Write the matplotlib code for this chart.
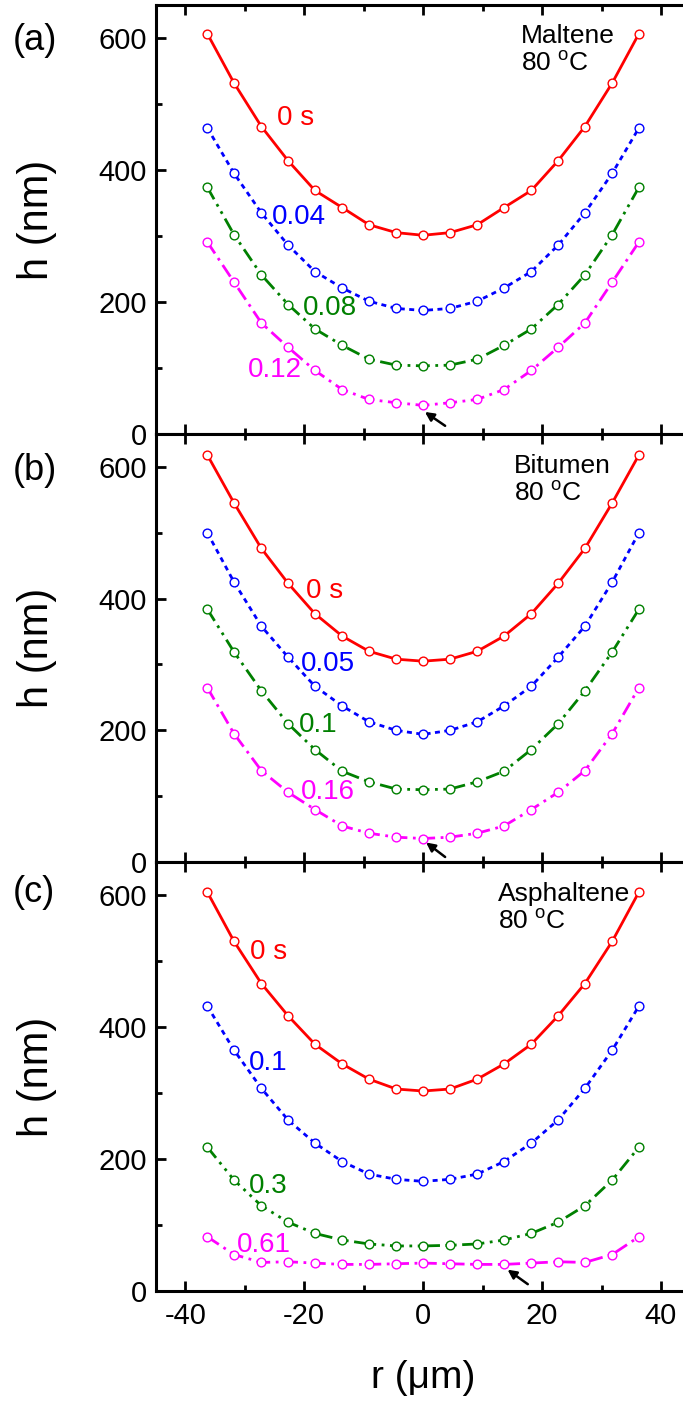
import matplotlib
matplotlib.use('Agg')
import matplotlib.pyplot as plt
from matplotlib.ticker import MultipleLocator

plt.rcParams['font.family'] = ['Liberation Sans', 'DejaVu Sans']
plt.rcParams['axes.unicode_minus'] = False
plt.rcParams['mathtext.fontset'] = 'custom'
plt.rcParams['mathtext.rm'] = 'Liberation Sans'
plt.rcParams['mathtext.it'] = 'Liberation Sans'

# radial positions (um)
r = [-36.3, -31.8, -27.2, -22.7, -18.2, -13.6, -9.1, -4.5, 0,
     4.5, 9.1, 13.6, 18.2, 22.7, 27.2, 31.8, 36.3]

# (a) Maltene
maltene_0 = [607, 532, 466, 414, 369, 343, 317, 305, 301, 305, 317, 343, 369, 414, 466, 532, 607]
maltene_1 = [464, 395, 335, 286, 246, 221, 201, 190, 187, 190, 201, 221, 246, 286, 335, 395, 464]
maltene_2 = [374, 302, 241, 196, 159, 134, 113, 104, 103, 104, 113, 134, 159, 196, 241, 302, 374]
maltene_3 = [291, 230, 168, 131, 96, 67, 52, 47, 43, 47, 52, 67, 96, 131, 168, 230, 291]
maltene_times = ['0 s', '0.04', '0.08', '0.12']

# (b) Bitumen
bitumen_0 = [618, 545, 476, 423, 377, 343, 320, 308, 305, 308, 320, 343, 377, 423, 476, 545, 618]
bitumen_1 = [500, 425, 358, 311, 267, 237, 213, 200, 194, 200, 213, 237, 267, 311, 358, 425, 500]
bitumen_2 = [384, 319, 260, 210, 171, 138, 122, 111, 110, 111, 122, 138, 171, 210, 260, 319, 384]
bitumen_3 = [265, 195, 139, 106, 80, 55, 44, 38, 36, 38, 44, 55, 80, 106, 139, 195, 265]
bitumen_times = ['0 s', '0.05', '0.1', '0.16']

# (c) Asphaltene
asph_0 = [605, 530, 466, 417, 374, 344, 321, 306, 303, 306, 321, 344, 374, 417, 466, 530, 605]
asph_1 = [432, 365, 307, 259, 224, 196, 177, 169, 166, 169, 177, 196, 224, 259, 307, 365, 432]
asph_2 = [218, 168, 129, 104, 87, 77, 71, 68, 68, 69, 71, 77, 87, 104, 129, 168, 218]
asph_3 = [82, 55, 43, 44, 42, 40, 40, 41, 42, 41, 40, 40, 42, 44, 43, 55, 82]
asph_times = ['0 s', '0.1', '0.3', '0.61']

colors = ['#ff0000', '#0000ff', '#008000', '#ff00ff']
styles = ['-', (0, (1.8, 1.6)), (0, (5, 2, 1, 2, 1, 2)), (0, (5, 2, 1, 2))]


def plot_panel(ax, curves, times, label_pos, name, name_pos, arrow):
    for y, c, ls in zip(curves, colors, styles):
        ax.plot(r, y, color=c, linestyle=ls, linewidth=2.0)
        ax.plot(r, y, 'o', markersize=6.3, markerfacecolor='white',
                markeredgecolor=c, markeredgewidth=1.0)
    for t, (x, y), c in zip(times, label_pos, colors):
        ax.text(x, y, t, color=c, fontsize=20, ha='center', va='center')
    ax.text(name_pos[0], name_pos[1], name + '\n80 $^{\\mathrm{o}}$C', fontsize=19,
            ha='left', va='top', linespacing=1.2)
    ax.annotate('', xy=arrow[0], xytext=arrow[1],
                arrowprops=dict(arrowstyle='-|>', color='black', lw=1.8,
                                mutation_scale=13, shrinkA=0, shrinkB=0))

    ax.set_xlim(-45, 45)
    ax.set_ylim(0, 650)
    ax.xaxis.set_major_locator(MultipleLocator(20))
    ax.xaxis.set_minor_locator(MultipleLocator(10))
    ax.yaxis.set_major_locator(MultipleLocator(200))
    ax.yaxis.set_minor_locator(MultipleLocator(100))
    ax.tick_params(which='both', direction='in', top=True, bottom=True,
                   left=True, right=False, width=2, labelsize=21)
    ax.tick_params(which='major', length=7)
    ax.tick_params(which='minor', length=4)
    ax.tick_params(axis='y', pad=6)
    ax.tick_params(axis='x', pad=8)
    for s in ['left', 'bottom', 'top']:
        ax.spines[s].set_linewidth(2.2)
    ax.spines['right'].set_visible(False)
    ax.set_ylabel('h (nm)', fontsize=30, labelpad=30)


fig = plt.figure(figsize=(6.83, 14.05), dpi=100)
left, width, height = 0.2277, 0.7836, 0.305
ax_a = fig.add_axes([left, 0.6913, width, height])
ax_b = fig.add_axes([left, 0.3863, width, height])
ax_c = fig.add_axes([left, 0.0813, width, height])

plot_panel(ax_a, [maltene_0, maltene_1, maltene_2, maltene_3], maltene_times,
           [(-21.5, 479), (-20.9, 329), (-15.7, 191), (-25.0, 97)],
           'Maltene', (16.4, 622), ((0.3, 33), (3.7, 12)))
plot_panel(ax_b, [bitumen_0, bitumen_1, bitumen_2, bitumen_3], bitumen_times,
           [(-16.5, 412), (-16.0, 301), (-17.6, 208), (-16.0, 107)],
           'Bitumen', (15.3, 620), ((0.5, 30), (3.7, 8)))
plot_panel(ax_c, [asph_0, asph_1, asph_2, asph_3], asph_times,
           [(-26.0, 514), (-26.0, 345), (-26.0, 159), (-26.8, 69)],
           'Asphaltene', (12.6, 620), ((14.2, 32), (17.6, 10)))

for letter, yc in [('(a)', 40), ('(b)', 470), ('(c)', 892)]:
    fig.text(13 / 683, 1 - yc / 1405, letter, fontsize=26, ha='left', va='center')

ax_a.tick_params(labelbottom=False)
ax_b.tick_params(labelbottom=False)
ax_c.set_xlabel('r (\u03bcm)', fontsize=28, labelpad=22)

plt.savefig('out.png', dpi=100)
